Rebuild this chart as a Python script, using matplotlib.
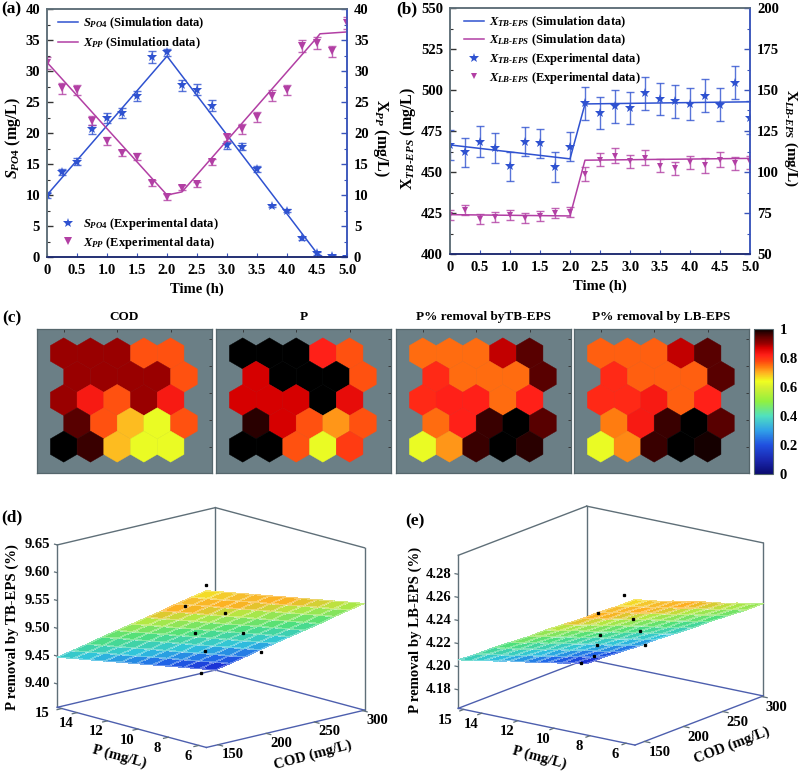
import numpy as np
import matplotlib
matplotlib.use('Agg')
import matplotlib.pyplot as plt
from matplotlib.cm import ScalarMappable
from matplotlib.collections import PatchCollection
from matplotlib.colors import LinearSegmentedColormap, Normalize
from matplotlib.patches import RegularPolygon
from mpl_toolkits.mplot3d import proj3d

plt.rcParams['font.family'] = ['Liberation Serif', 'DejaVu Serif']
plt.rcParams['font.weight'] = 'bold'
plt.rcParams['axes.labelweight'] = 'bold'
plt.rcParams['mathtext.fontset'] = 'custom'
plt.rcParams['mathtext.rm'] = 'Liberation Serif:bold'
plt.rcParams['mathtext.it'] = 'Liberation Serif:italic:bold'
plt.rcParams['mathtext.bf'] = 'Liberation Serif:bold'

# panels (a) and (b): time courses
time_h = [0, .25, .5, .75, 1, 1.25, 1.5, 1.75, 2, 2.25, 2.5, 2.75, 3, 3.25, 3.5, 3.75, 4, 4.25, 4.5, 4.75, 5]

s_po4 = [10, 13.7, 15.4, 20.6, 22.4, 23.3, 26, 32.3, 33, 27.7, 27, 24.4, 18, 17.8, 14.2, 8.2, 7.5, 3, .6, .2, 0]
s_po4_err = [.5, .5, .5, .7, .8, .8, .8, 1, .5, .9, .9, .9, .6, .6, .5, .2, .2, .2, .2, .1, .1]
x_pp = [31.3, 27.2, 27, 22, 18.7, 16.8, 16.2, 11.9, 9.7, 11.2, 11.7, 15.3, 19.3, 20.6, 22.6, 26, 27, 34, 34.5, 33.2, 37.7]
x_pp_err = [1, .9, .8, .7, .6, .5, .5, .5, .5, .4, .4, .5, .6, .8, .8, .9, .8, 1, 1, .9, 1]
s_sim_t = [0, 2, 4.5, 4.6, 5]
s_sim = [10, 32.4, .6, 0, 0]
x_sim_t = [0, 2, 2.25, 4.5, 4.55, 5]
x_sim = [31.4, 10, 10.5, 35.4, 36, 36.3]

x_tb = [466.5, 462, 468.5, 464.5, 453.5, 468.5, 467.5, 453, 465.5, 492, 486, 490, 489, 498, 494.5, 493, 491.5, 496.5, 491, 504.5, 483]
x_tb_err = [9, 9, 9.5, 9, 9, 9, 9, 9, 9, 10, 10, 10, 10, 10, 10, 10, 10, 10, 10, 10, 10]
x_lb = [74, 76.6, 71.3, 72.4, 73.6, 72, 73, 75, 75.4, 98.8, 107.5, 110, 106.5, 108.8, 103.9, 102.4, 106, 104, 107.5, 105.3, 106]
x_lb_err = [3, 3, 3, 3, 3, 3, 3, 3, 3, 4, 4, 4.5, 4, 4.5, 4, 4, 4, 4.5, 4.5, 4, 4]
eps_sim_t = [0, 2, 2.25, 5]
x_tb_sim = [466.5, 458, 491.5, 492.8]
x_lb_sim = [74, 73.2, 107.2, 108.3]

time_ticks = [0, .5, 1, 1.5, 2, 2.5, 3, 3.5, 4, 4.5, 5]
time_labels = ['0', '0.5', '1.0', '1.5', '2.0', '2.5', '3.0', '3.5', '4.0', '4.5', '5.0']

# panel (c): SOM component planes, rows listed top to bottom
som_titles = ['COD', 'P', 'P% removal byTB-EPS', 'P% removal by LB-EPS']
som_cod = [[.90, .90, .90, .77, .77],
           [.90, .90, .90, .90, .77],
           [.90, .83, .77, .90, .83],
           [.95, .77, .69, .63, .77],
           [1.0, .97, .69, .63, .63]]
som_p = [[1.0, 1.0, 1.0, .82, .77],
         [.87, 1.0, 1.0, 1.0, .77],
         [.87, .87, .87, 1.0, .85],
         [.98, .87, .77, .72, .77],
         [1.0, 1.0, .77, .63, .79]]
som_tb = [[.75, .75, .75, .88, .95],
          [.81, .75, .75, .75, .95],
          [.81, .82, .82, .75, .82],
          [.75, .82, .97, 1.0, .95],
          [.63, .72, .97, 1.0, .98]]
som_lb = [[.76, .76, .76, .88, .95],
          [.81, .76, .76, .76, .95],
          [.81, .81, .83, .76, .82],
          [.74, .83, .97, 1.0, .95],
          [.63, .73, .97, 1.0, .99]]
cbar_ticks = [0, .2, .4, .6, .8, 1]
cbar_labels = ['0', '0.2', '0.4', '0.6', '0.8', '1']

# panels (d) and (e): response surfaces
p_grid = [5.5, 6.48, 7.46, 8.44, 9.42, 10.4, 11.38, 12.36, 13.34, 14.32, 15.3]
cod_grid = [138, 154.4, 170.8, 187.2, 203.6, 220, 236.4, 252.8, 269.2, 285.6, 302]
z_tb = [[9.640, 9.631, 9.622, 9.613, 9.604, 9.595, 9.586, 9.577, 9.568, 9.559, 9.550],
        [9.621, 9.612, 9.603, 9.594, 9.585, 9.576, 9.567, 9.558, 9.549, 9.540, 9.531],
        [9.602, 9.593, 9.584, 9.575, 9.566, 9.557, 9.548, 9.539, 9.530, 9.521, 9.512],
        [9.582, 9.573, 9.564, 9.555, 9.546, 9.537, 9.528, 9.519, 9.510, 9.501, 9.492],
        [9.563, 9.554, 9.545, 9.536, 9.527, 9.518, 9.509, 9.500, 9.491, 9.482, 9.473],
        [9.544, 9.535, 9.526, 9.517, 9.508, 9.499, 9.490, 9.481, 9.472, 9.463, 9.454],
        [9.525, 9.516, 9.507, 9.498, 9.489, 9.480, 9.471, 9.462, 9.453, 9.444, 9.435],
        [9.506, 9.497, 9.488, 9.479, 9.470, 9.461, 9.452, 9.443, 9.434, 9.425, 9.416],
        [9.486, 9.477, 9.468, 9.459, 9.450, 9.441, 9.432, 9.423, 9.414, 9.405, 9.396],
        [9.467, 9.458, 9.449, 9.440, 9.431, 9.422, 9.413, 9.404, 9.395, 9.386, 9.377],
        [9.448, 9.439, 9.430, 9.421, 9.412, 9.403, 9.394, 9.385, 9.376, 9.367, 9.358]]
z_lb = [[4.290, 4.285, 4.280, 4.276, 4.271, 4.267, 4.262, 4.257, 4.253, 4.248, 4.244],
        [4.281, 4.277, 4.272, 4.267, 4.263, 4.258, 4.254, 4.249, 4.244, 4.240, 4.235],
        [4.273, 4.268, 4.264, 4.259, 4.255, 4.250, 4.245, 4.241, 4.236, 4.232, 4.227],
        [4.264, 4.260, 4.255, 4.251, 4.246, 4.242, 4.237, 4.232, 4.228, 4.223, 4.219],
        [4.256, 4.251, 4.247, 4.242, 4.238, 4.233, 4.229, 4.224, 4.219, 4.215, 4.210],
        [4.248, 4.243, 4.239, 4.234, 4.229, 4.225, 4.220, 4.216, 4.211, 4.206, 4.202],
        [4.239, 4.235, 4.230, 4.226, 4.221, 4.217, 4.212, 4.207, 4.203, 4.198, 4.194],
        [4.231, 4.226, 4.222, 4.217, 4.213, 4.208, 4.204, 4.199, 4.194, 4.190, 4.185],
        [4.223, 4.218, 4.213, 4.209, 4.204, 4.200, 4.195, 4.191, 4.186, 4.181, 4.177],
        [4.214, 4.210, 4.205, 4.200, 4.196, 4.191, 4.187, 4.182, 4.178, 4.173, 4.169],
        [4.206, 4.201, 4.197, 4.192, 4.188, 4.183, 4.178, 4.174, 4.169, 4.165, 4.160]]
dots_tb_p = [5.5, 7.48, 7.96, 10.59, 10.04, 12.55, 12.08, 15.29]
dots_tb_cod = [138, 146.8, 196.5, 206.6, 247.6, 247.9, 298, 287]
dots_tb_z = [9.65, 9.595, 9.557, 9.498, 9.486, 9.435, 9.416, 9.358]
dots_lb_p = [6.09, 7.59, 8.35, 10.88, 10.19, 12.52, 12.04, 14.09, 15.27]
dots_lb_cod = [138, 139.5, 201, 217, 253, 251, 302, 284, 294]
dots_lb_z = [4.292, 4.2713, 4.2476, 4.2216, 4.2174, 4.1981, 4.1871, 4.1754, 4.1626]
p_ticks = [15, 14, 12, 10, 8, 6]
cod_ticks = [150, 200, 250, 300]
z_tb_ticks = [9.40, 9.45, 9.50, 9.55, 9.60, 9.65]
z_lb_ticks = [4.18, 4.20, 4.22, 4.24, 4.26, 4.28]

BLUE = '#2f52d0'
PURPLE = '#b23fa4'
FRAME = '#5f6f78'
EDGE_BLUE = '#3a55bb'
W, H = 802, 774

fig = plt.figure(figsize=(W / 100, H / 100), dpi=100)


def ax_px(left, top, right, bottom, **kw):
    return fig.add_axes([left / W, 1 - bottom / H, (right - left) / W, (bottom - top) / H], **kw)


def text_px(x, y, s, **kw):
    kw.setdefault('ha', 'center')
    kw.setdefault('va', 'center')
    fig.text(x / W, 1 - y / H, s, **kw)


def style_time_axes(ax, twin, left_ticks, left_minor, right_ticks, right_minor):
    ax.set_xlim(0, 5)
    ax.set_xticks(time_ticks)
    ax.set_xticklabels(time_labels)
    ax.set_xticks([], minor=True)
    ax.set_yticks(left_ticks)
    ax.set_yticks(left_minor, minor=True)
    twin.set_yticks(right_ticks)
    twin.set_yticks(right_minor, minor=True)
    ax.tick_params(axis='x', direction='in', length=3, pad=5, labelsize=10.5, color=EDGE_BLUE)
    ax.tick_params(axis='y', which='major', direction='in', length=4, width=1, pad=5, labelsize=10.5, color='#333333')
    ax.tick_params(axis='y', which='minor', direction='in', length=2.5, width=.8, color='#333333')
    twin.tick_params(axis='y', which='major', direction='in', length=4, width=1, pad=5, labelsize=10.5, color=EDGE_BLUE)
    twin.tick_params(axis='y', which='minor', direction='in', length=2.5, width=.8, color=EDGE_BLUE)
    for a in (ax, twin):
        a.spines['top'].set_color(FRAME)
        a.spines['left'].set_color(FRAME)
        a.spines['right'].set_color(EDGE_BLUE)
        a.spines['bottom'].set_color('#1d2a70')
        for sp in a.spines.values():
            sp.set_linewidth(1.1)


def exp_series(ax, y, err, color, marker, size):
    ax.errorbar(time_h, y, yerr=err, fmt='none', ecolor=color, elinewidth=1, capsize=3.2, capthick=1, alpha=.8)
    line, = ax.plot(time_h, y, marker, color=color, ms=size, mew=0, ls='none')
    return line


# panel (a)
ax_a = ax_px(47, 9, 347, 257)
tw_a = ax_a.twinx()
ax_a.set_ylim(0, 40)
tw_a.set_ylim(0, 40)
sim_s, = ax_a.plot(s_sim_t, s_sim, color=BLUE, lw=1.1)
sim_x, = tw_a.plot(x_sim_t, x_sim, color=PURPLE, lw=1.1)
exp_s = exp_series(ax_a, s_po4, s_po4_err, BLUE, '*', 7.5)
exp_x = exp_series(tw_a, x_pp, x_pp_err, PURPLE, 'v', 5.5)
style_time_axes(ax_a, tw_a, list(range(0, 41, 5)), list(np.arange(2.5, 40, 5)), list(range(0, 41, 5)), list(np.arange(2.5, 40, 5)))
ax_a.set_xlabel('Time (h)', fontsize=10.5, labelpad=4)
ax_a.set_ylabel(r'$S_{\mathit{PO4}}$ (mg/L)', fontsize=11.5, va='center')
ax_a.yaxis.set_label_coords(-.113, .48)
tw_a.set_ylabel(r'$\mathrm{X}_{\mathit{PP}}$ (mg/L)', fontsize=11.5, rotation=270, va='center')
tw_a.yaxis.set_label_coords(1.112, .48)
leg = tw_a.legend([sim_s, sim_x], [r'$S_{\mathit{PO4}}$ (Simulation data)', r'$X_{\mathit{PP}}$ (Simulation data)'],
                  loc='upper left', bbox_to_anchor=(.015, 1.0), frameon=False, fontsize=9,
                  handlelength=1.6, labelspacing=.37, handletextpad=.4, borderaxespad=.1)
tw_a.add_artist(leg)
tw_a.legend([exp_s, exp_x], [r'$S_{\mathit{PO4}}$ (Experimental data)', r'$X_{\mathit{PP}}$ (Experimental data)'],
            loc='lower left', bbox_to_anchor=(.015, .0), frameon=False, fontsize=9,
            handlelength=1.6, labelspacing=.2, handletextpad=.4, borderaxespad=.1)

# panel (b)
ax_b = ax_px(450, 8, 750, 254)
tw_b = ax_b.twinx()
ax_b.set_ylim(400, 550)
tw_b.set_ylim(50, 200)
sim_tb, = ax_b.plot(eps_sim_t, x_tb_sim, color=BLUE, lw=1.1)
sim_lb, = tw_b.plot(eps_sim_t, x_lb_sim, color=PURPLE, lw=1.1)
exp_tb = exp_series(ax_b, x_tb, x_tb_err, BLUE, '*', 7)
exp_lb = exp_series(tw_b, x_lb, x_lb_err, PURPLE, 'v', 4.8)
style_time_axes(ax_b, tw_b, list(range(400, 551, 25)), list(np.arange(412.5, 550, 25)), list(range(50, 201, 25)), list(np.arange(62.5, 200, 25)))
ax_b.set_xlabel('Time (h)', fontsize=10.5, labelpad=4)
ax_b.set_ylabel(r'$\mathrm{X}_{\mathit{TB\text{-}EPS}}$ (mg/L)', fontsize=11.5, va='center')
ax_b.yaxis.set_label_coords(-.14, .47)
tw_b.set_ylabel(r'$\mathrm{X}_{\mathit{LB\text{-}EPS}}$ (mg/L)', fontsize=11, rotation=270, va='center')
tw_b.yaxis.set_label_coords(1.135, .47)
tw_b.legend([sim_tb, sim_lb, exp_tb, exp_lb],
            [r'$X_{\mathit{TB\text{-}EPS}}$ (Simulation data)', r'$X_{\mathit{LB\text{-}EPS}}$ (Simulation data)',
             r'$X_{\mathit{TB\text{-}EPS}}$ (Experimental data)', r'$X_{\mathit{LB\text{-}EPS}}$ (Experimental data)'],
            loc='upper left', bbox_to_anchor=(.025, 1.0), frameon=False, fontsize=9,
            handlelength=1.6, labelspacing=.23, handletextpad=.4, borderaxespad=.1)

# panel (c)
som_cmap = LinearSegmentedColormap.from_list('som', [
    (0, '#0a0a70'), (.1, '#1a28b0'), (.2, '#2050e0'), (.3, '#30a0e8'), (.4, '#50e0c0'), (.5, '#90f040'),
    (.6, '#d8f030'), (.64, '#f0ff20'), (.7, '#ffb020'), (.74, '#ff7c10'), (.78, '#ff4510'), (.82, '#ff2018'),
    (.87, '#d80000'), (.9, '#990000'), (.95, '#5a0000'), (.98, '#2a0000'), (1, '#000000')], N=512)
som_norm = Normalize(0, 1)
som_panels = [som_cod, som_p, som_tb, som_lb]
som_left = [37, 216, 396, 574]
for i, values in enumerate(som_panels):
    ax = ax_px(som_left[i], 329, som_left[i] + 175, 473)
    ax.set_facecolor('#6b7f86')
    hexes = []
    colors = []
    for r, row in enumerate(values):
        grid_row = 4 - r
        for c, v in enumerate(row):
            hexes.append(RegularPolygon((c + .5 * (grid_row % 2), grid_row * np.sqrt(3) / 2), 6, radius=1 / np.sqrt(3)))
            colors.append(v)
    coll = PatchCollection(hexes, cmap=som_cmap, norm=som_norm, edgecolor='face', linewidth=.3)
    coll.set_array(np.array(colors))
    ax.add_collection(coll)
    ax.set_xlim(-1, 5.55)
    ax.set_ylim(-.98, 4.37)
    ax.set_xticks([0, 2, 4])
    ax.set_yticks([0, 1, 2, 3, 4])
    ax.tick_params(top=True, right=True, bottom=False, left=False, labelbottom=False, labelleft=False,
                   direction='in', length=2, width=.6, color='#303030')
    for sp in ax.spines.values():
        sp.set_color('#55666c')
        sp.set_linewidth(.9)
    text_px(som_left[i] + 87.5, 317, som_titles[i], fontsize=9.5)

cax = ax_px(754, 329, 773, 474)
cbar = fig.colorbar(ScalarMappable(norm=som_norm, cmap=som_cmap), cax=cax, ticks=cbar_ticks)
cbar.ax.set_yticklabels(cbar_labels)
cbar.ax.tick_params(length=0, pad=5, labelsize=10.5)
cbar.outline.set_edgecolor('#55666c')

# panels (d), (e)
surf_cmap = LinearSegmentedColormap.from_list('surf', [
    (0, '#1a1ccc'), (.15, '#2066e8'), (.3, '#30c4dc'), (.5, '#4fe07a'), (.68, '#b4e843'),
    (.8, '#ffae20'), (.9, '#f4c030'), (1, '#f4f41e')])


def place_box(ax, lims, left_px, right_px):
    # scale and shift the square 3d axes so the box's bottom corners land on the given pixels
    ax.set_position([.2, .2, .5, .5 * W / H])
    for _ in range(2):
        ax.apply_aspect()
        xs, ys, _z = proj3d.proj_transform(np.array([lims[0], lims[1]]), np.array([lims[3], lims[2]]),
                                           np.array([lims[4], lims[4]]), ax.get_proj())
        pts = ax.transData.transform(np.column_stack([xs, ys]))
        target = np.array([left_px[0], H - left_px[1]])
        scale = (right_px[0] - left_px[0]) / (pts[1, 0] - pts[0, 0])
        pos = ax.get_position()
        centre = np.array([(pos.x0 + pos.width / 2) * W, (pos.y0 + pos.height / 2) * H])
        shift = target - (centre + (pts[0] - centre) * scale)
        new_c = centre + shift
        w = pos.width * scale
        h = pos.height * scale
        ax.set_position([new_c[0] / W - w / 2, new_c[1] / H - h / 2, w, h])


def surface_panel(z_table, dots, z_ticks, z_lim, elev, azim, aspect, left_px, right_px, p15_off, cod_off):
    ax = fig.add_axes([.2, .2, .5, .5], projection='3d', proj_type='ortho')
    ax.set_axis_off()
    ax.patch.set_alpha(0)
    ax.view_init(elev=elev, azim=azim)
    ax.set_box_aspect(aspect)
    lims = (cod_grid[0], cod_grid[-1], p_grid[0], p_grid[-1], z_lim[0], z_lim[1])
    ax.set_xlim(lims[0], lims[1])
    ax.set_ylim(lims[2], lims[3])
    ax.set_zlim(lims[4], lims[5])
    place_box(ax, lims, left_px, right_px)
    c0, c1, p0, p1, z0, z1 = lims

    # box edges that the original draws
    for xe, ye, ze in [([c0, c1], [p1, p1], [z1, z1]), ([c1, c1], [p1, p0], [z1, z1]),
                       ([c0, c0], [p1, p1], [z0, z1]), ([c1, c1], [p1, p1], [z0, z1]),
                       ([c1, c1], [p0, p0], [z0, z1])]:
        ax.plot(xe, ye, ze, color=FRAME, lw=1, zorder=1)
    for xe, ye in [([c0, c1], [p1, p1]), ([c1, c1], [p1, p0]), ([c0, c0], [p1, p0]), ([c0, c1], [p0, p0])]:
        ax.plot(xe, ye, [z0, z0], color='#4d5fae', lw=1, zorder=1)

    cc, pp = np.meshgrid(cod_grid, p_grid)
    zz = np.array(z_table)
    ax.plot_surface(cc, pp, zz, rstride=1, cstride=1, cmap=surf_cmap, norm=Normalize(zz.min(), zz.max()),
                    shade=False, antialiased=False, linewidth=.35, edgecolor=(1, 1, 1, .3))
    ax.plot(dots[1], dots[0], dots[2], ls='none', marker='s', ms=1.4, color='black', zorder=20)

    M = ax.get_proj()

    def label(x, y, z, s, off):
        px, py, _ = proj3d.proj_transform(x, y, z, M)
        ax.annotate(s, (px, py), xytext=off, textcoords='offset pixels', ha='center', va='center',
                    fontsize=10.5, annotation_clip=False)

    for t in z_ticks:
        ax.plot([c0, c0], [p1, p1 + .18], [t, t], color=FRAME, lw=.9, zorder=1)
        px, py, _ = proj3d.proj_transform(c0, p1, t, M)
        ax.annotate('%.2f' % t, (px, py), xytext=(-7, 0), textcoords='offset pixels', ha='right', va='center',
                    fontsize=10.5, annotation_clip=False)
    for t in p_ticks:
        ax.plot([c0, c0 - 5], [t, t], [z0, z0], color=FRAME, lw=.9, zorder=1)
        label(c0, t, z0, str(t), p15_off if t == 15 else (-11, -11))
    for t in cod_ticks:
        ax.plot([t, t], [p0, p0 - .3], [z0, z0], color=FRAME, lw=.9, zorder=1)
        label(t, p0, z0, str(t), cod_off)
    return ax


surface_panel(z_tb, (dots_tb_p, dots_tb_cod, dots_tb_z), z_tb_ticks, (9.358, 9.65), 14.6, -133.1,
              (216, 217.7, 167.4), (57.3, 707.3), (364.5, 710), (-20, -5), (15, -10))
surface_panel(z_lb, (dots_lb_p, dots_lb_cod, dots_lb_z), z_lb_ticks, (4.164, 4.2965), 16.4, -143.6,
              (216.2, 219.5, 159.5), (458.3, 708.3), (763.3, 696), (-19, -11), (15, -11))

text_px(119, 757, 'P (mg/L)', fontsize=10.6, rotation=-15)
text_px(313, 755, 'COD (mg/L)', fontsize=10.6, rotation=15)
text_px(12, 627, 'P removal by TB-EPS (%)', fontsize=10.6, rotation=90)
text_px(539, 758, 'P (mg/L)', fontsize=10.6, rotation=-15)
text_px(732, 745, 'COD (mg/L)', fontsize=10.6, rotation=21)
text_px(415, 630, 'P removal by LB-EPS (%)', fontsize=10.6, rotation=90)

for x, y, s in [(11, 9, '(a)'), (407, 9, '(b)'), (12, 318, '(c)'), (12, 517, '(d)'), (415, 521, '(e)')]:
    text_px(x, y, s, fontsize=12.5)

fig.savefig('out.png', dpi=100)
